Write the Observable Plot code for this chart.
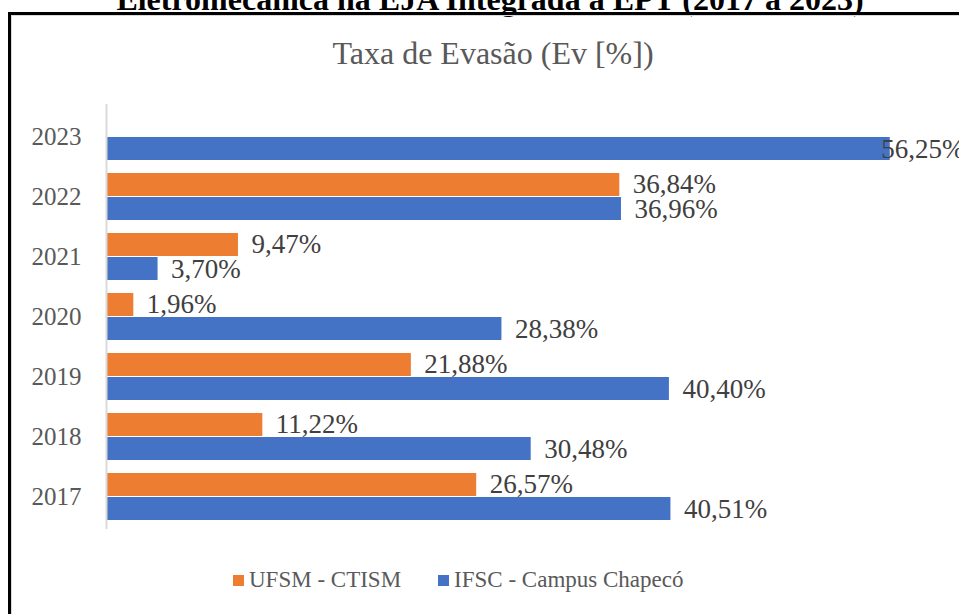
<!DOCTYPE html>
<html>
<head>
<meta charset="utf-8">
<script src="https://cdn.jsdelivr.net/npm/d3@7"></script>
<script src="https://cdn.jsdelivr.net/npm/@observablehq/plot@0.6"></script>
<style>
  html, body { margin: 0; padding: 0; background: #fff; }
  #page { position: relative; width: 959px; height: 614px; overflow: hidden; font-family: 'Liberation Serif', 'Times New Roman', serif; }
  #toptitle { position: absolute; left: 0; width: 980px; text-align: center; top: -17px; font-weight: bold; font-size: 32px; line-height: 32px; color: #000; white-space: nowrap; }
  #box { position: absolute; left: 8px; top: 12px; width: 1000px; height: 700px; border: 3px solid #000; box-sizing: border-box; box-shadow: inset 1px 1px 0 #d9d9d9; }
  #charttitle { position: absolute; left: 0; width: 986px; text-align: center; top: 37px; font-size: 32px; line-height: 32px; color: #595959; white-space: nowrap; }
  #chart { position: absolute; left: 0; top: 90px; }
  #legend { position: absolute; left: 233px; top: 566px; display: flex; gap: 37px; font-size: 23px; line-height: 28px; color: #595959; }
  .item { display: flex; align-items: center; white-space: nowrap; }
  .sw { width: 11px; height: 11px; margin-right: 5px; display: inline-block; }
</style>
</head>
<body>
<div id="page">
  <div id="toptitle">Eletromecânica na EJA Integrada à EPT (2017 a 2023)</div>
  <div id="box"></div>
  <div id="charttitle">Taxa de Evasão (Ev [%])</div>
  <div id="chart"></div>
  <div id="legend"></div>
</div>
<script>
const years = [2023, 2022, 2021, 2020, 2019, 2018, 2017];
const seriesNames = ["UFSM - CTISM", "IFSC - Campus Chapecó"];
const seriesColors = ["#ED7D31", "#4472C4"];
const ufsm = [null, 36.84, 9.47, 1.96, 21.88, 11.22, 26.57];
const ifsc = [56.25, 36.96, 3.70, 28.38, 40.40, 30.48, 40.51];

const ufsmData = years.map((y, i) => ({year: y, value: ufsm[i]})).filter(d => d.value != null);
const ifscData = years.map((y, i) => ({year: y, value: ifsc[i]})).filter(d => d.value != null);

const serif = "'Liberation Serif', 'Times New Roman', serif";
const fmt = v => v.toFixed(2).replace(".", ",") + "%";
const labelFont = {fontSize: 27, fontFamily: serif, fill: "#404040", textAnchor: "start"};

const chart = Plot.plot({
  width: 959,
  height: 460,
  marginLeft: 106,
  marginRight: 17,
  marginTop: 14,
  marginBottom: 21,
  style: {background: "none", overflow: "visible", fontFamily: serif},
  x: {domain: [0, 60], axis: null},
  y: {domain: years, paddingInner: 0.213, paddingOuter: 0.1065, label: null, axis: null},
  marks: [
    Plot.axisY({tickSize: 0, tickPadding: 25, fontSize: 25, fontFamily: serif, fill: "#595959", label: null, tickFormat: d => String(d)}),
    Plot.barX(ufsmData, {x: "value", y: "year", fill: seriesColors[0], insetBottom: 24}),
    Plot.barX(ifscData, {x: "value", y: "year", fill: seriesColors[1], insetTop: 24}),
    Plot.ruleX([0], {stroke: "#d9d9d9", strokeWidth: 2}),
    Plot.text(ufsmData, {x: "value", y: "year", text: d => fmt(d.value), dy: -13, dx: 13, ...labelFont}),
    Plot.text(ifscData.filter(d => d.value <= 50), {x: "value", y: "year", text: d => fmt(d.value), dy: 12, dx: 13, ...labelFont}),
    Plot.text(ifscData.filter(d => d.value > 50), {x: "value", y: "year", text: d => fmt(d.value), dy: 12, dx: -9, ...labelFont})
  ]
});
document.getElementById("chart").appendChild(chart);

const legend = document.getElementById("legend");
seriesNames.forEach((name, i) => {
  const item = document.createElement("div");
  item.className = "item";
  const sw = document.createElement("span");
  sw.className = "sw";
  sw.style.background = seriesColors[i];
  item.appendChild(sw);
  item.appendChild(document.createTextNode(name));
  legend.appendChild(item);
});
</script>
</body>
</html>
